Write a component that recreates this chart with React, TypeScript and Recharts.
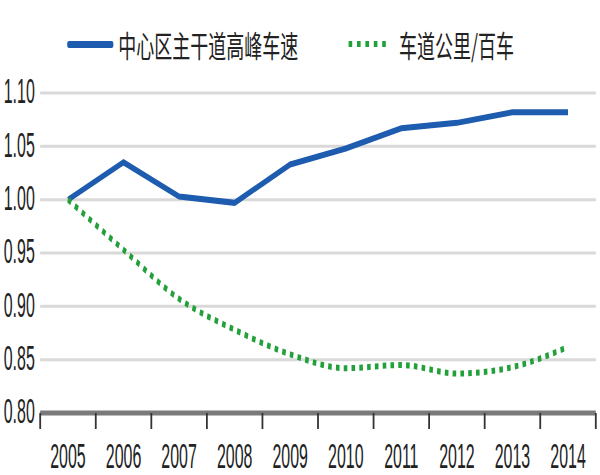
import { LineChart, Line, XAxis, YAxis, CartesianGrid } from 'recharts'

const years = ['2005', '2006', '2007', '2008', '2009', '2010', '2011', '2012', '2013', '2014']
const peakSpeed = [1.0, 1.035, 1.003, 0.997, 1.033, 1.048, 1.067, 1.072, 1.082, 1.082]
const laneKmPer100Cars = [1.0, 0.953, 0.907, 0.878, 0.855, 0.842, 0.845, 0.837, 0.843, 0.862]
const yTicks = [0.8, 0.85, 0.9, 0.95, 1.0, 1.05, 1.1]

const speedName = '中心区主干道高峰车速'
const laneName = '车道公里/百车'

const data = years.map((year, i) => ({
    year,
    speed: peakSpeed[i],
    lane: laneKmPer100Cars[i],
}))

// whole picture is drawn wide and squeezed horizontally, like the source
const SQUEEZE = 0.6
const W = 1000
const H = 475
const LEFT = 67
const RIGHT = 7
const HALF_BAND = (W - LEFT - RIGHT) / years.length / 2
// digits in the source are narrower still
const NUM_NARROW = 0.76

const numFont = '"Liberation Sans", sans-serif'
const cjkFont = '"Noto Sans CJK SC", sans-serif'

function XTick(props: any) {
    const { x, y, payload, index } = props
    return (
        <g>
            {index === 0 && (
                <line x1={x - HALF_BAND} x2={x - HALF_BAND} y1={y - 8} y2={y + 8} stroke="#333" strokeWidth={3} />
            )}
            <line x1={x + HALF_BAND} x2={x + HALF_BAND} y1={y - 8} y2={y + 8} stroke="#333" strokeWidth={3} />
            <text transform={`translate(${x},${y + 38}) scale(${NUM_NARROW},1)`} textAnchor="middle" dominantBaseline="middle"
                fontFamily={numFont} fontSize={35} fill="#222">
                {payload.value}
            </text>
        </g>
    )
}

function YTick(props: any) {
    const { y, payload } = props
    return (
        <text transform={`translate(58,${y + 1}) scale(${NUM_NARROW},1)`} textAnchor="end" dominantBaseline="middle"
            fontFamily={numFont} fontSize={35} fill="#222">
            {Number(payload.value).toFixed(2)}
        </text>
    )
}

export default function App() {
    return (
        <div style={{ position: 'absolute', left: 0, top: 0, width: 600, height: H, overflow: 'hidden', background: '#fff' }}>
            <div style={{ width: W, height: H, position: 'relative', transform: `scaleX(${SQUEEZE})`, transformOrigin: '0 0' }}>
                <div style={{ position: 'absolute', top: 22, left: 112, display: 'flex', alignItems: 'center', fontFamily: cjkFont, fontSize: 30, color: '#222', whiteSpace: 'nowrap' }}>
                    <span style={{ display: 'inline-block', width: 77, height: 7, background: '#1d5cae', borderRadius: 3, marginRight: 8 }} />
                    <span>{speedName}</span>
                    <svg width={72} height={10} style={{ marginLeft: 82, marginRight: 14 }}>
                        <line x1={2} x2={72} y1={5} y2={5} stroke="#22a03a" strokeWidth={6} strokeDasharray="6 8" />
                    </svg>
                    <span>{laneName}</span>
                </div>
                <LineChart width={W} height={H} data={data} margin={{ top: 93, right: RIGHT, left: 0, bottom: 0 }}>
                    <CartesianGrid vertical={false} stroke="#d9d9d9" strokeWidth={3} />
                    <XAxis
                        dataKey="year"
                        height={62}
                        padding={{ left: HALF_BAND, right: HALF_BAND }}
                        axisLine={{ stroke: '#7a7a7a', strokeWidth: 5 }}
                        tickLine={false}
                        tick={<XTick />}
                        interval={0}
                    />
                    <YAxis
                        width={LEFT}
                        domain={[0.8, 1.1]}
                        ticks={yTicks}
                        axisLine={false}
                        tickLine={false}
                        tick={<YTick />}
                        allowDataOverflow
                    />
                    <Line type="linear" dataKey="speed" name={speedName} stroke="#1d5cae" strokeWidth={6}
                        dot={false} isAnimationActive={false} />
                    <Line type="monotone" dataKey="lane" name={laneName} stroke="#22a03a" strokeWidth={6}
                        strokeDasharray="6 7" dot={false} isAnimationActive={false} />
                </LineChart>
            </div>
        </div>
    )
}
